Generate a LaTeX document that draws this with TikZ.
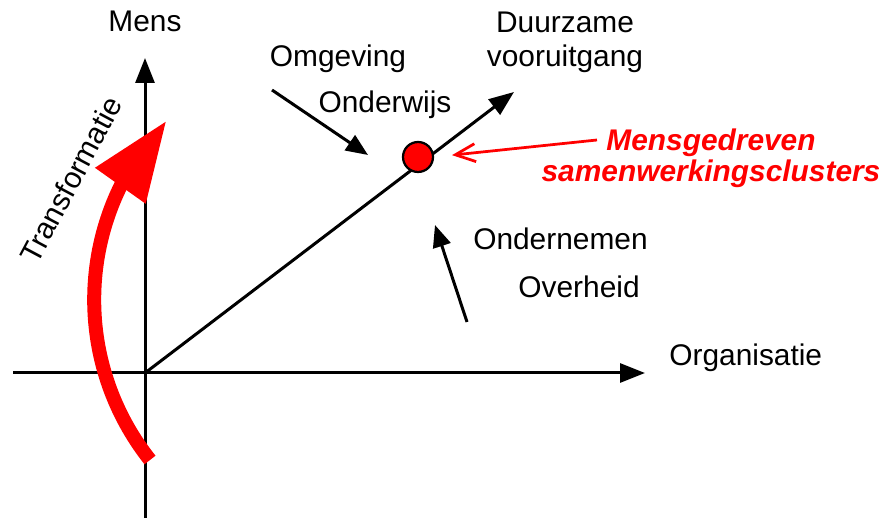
\documentclass[tikz,border=0pt]{standalone}
\usepackage{fontspec}
\setmainfont{Liberation Sans}
\usetikzlibrary{arrows.meta,bending}

\tikzset{
  axis/.style={line width=0.6mm, -{Triangle[length=5mm,width=3.8mm]}},
  push/.style={line width=0.6mm, -{Triangle[length=4.4mm,width=3.6mm]}},
  pointer/.style={red, line width=0.55mm, -{Straight Barb[length=4mm,width=3.6mm]}},
  turn/.style={red, line width=2.8mm, -{Triangle[length=16mm,width=11.6mm]}},
  txt/.style={anchor=base, inner sep=0pt, align=center, font=\fontsize{17}{19.4}\selectfont},
  redtxt/.style={txt, text=red, font=\fontsize{17}{18.2}\selectfont\bfseries\itshape},
  dot/.style={circle, draw=black, fill=red, line width=0.45mm, minimum size=6mm, inner sep=0pt}
}

\begin{document}
\begin{tikzpicture}[x=0.2mm,y=-0.2mm]
\useasboundingbox (0,0) rectangle (883,518);

% assen
\coordinate (O) at (145,373);
\coordinate (west) at (13,373);
\coordinate (east) at (645,373);
\coordinate (south) at (145,518);
\coordinate (north) at (145,58);
\coordinate (goal) at (514,92);
\draw[axis] (west) -- (east);
\draw[axis] (south) -- (north);
\draw[axis] (O) -- (goal);

% labels (base = laatste regel)
\node[txt] (mens) at (145,32) {Mens};
\node[txt, anchor=base west] (organisatie) at (669,366) {Organisatie};
\node[txt] (duurzaam) at (565,67) {Duurzame\\vooruitgang};
\node[txt] (omgeving) at (338,67) {Omgeving};
\node[txt] (onderwijs) at (385,113) {Onderwijs};
\node[txt, anchor=base east] (ondernemen) at (648,250) {Ondernemen};
\node[txt, anchor=base east] (overheid) at (640,298) {Overheid};
\node[txt, anchor=base west, rotate=62] (transformatie) at (37,266) {Transformatie};
\node[redtxt] (clusters) at (711,182) {Mensgedreven\\samenwerkingsclusters};

% cluster
\node[dot] (cluster) at (418,157) {};
\coordinate (tail) at (597,140);
\draw[pointer, shorten >=3.6mm] (tail) -- (cluster.east);

% invloeden
\coordinate (inA) at (272,90);
\coordinate (inB) at (368,155);
\coordinate (upA) at (467,322);
\coordinate (upB) at (435,225);
\draw[push] (inA) -- (inB);
\draw[push] (upA) -- (upB);

% transformatie
\draw[turn] (150,460) arc[start angle=141.6, end angle=224, radius=258];
\end{tikzpicture}
\end{document}
